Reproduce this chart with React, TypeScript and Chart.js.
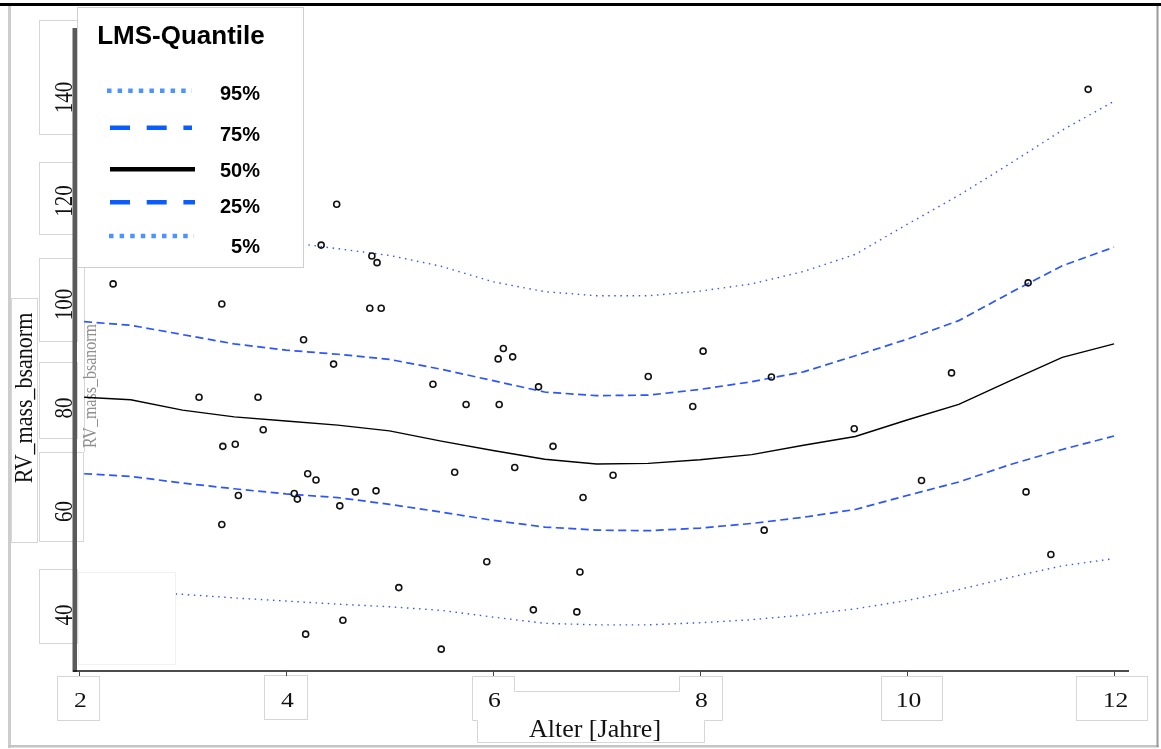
import React, { useEffect, useRef } from 'react';
import { Chart, registerables } from 'chart.js';

Chart.register(...registerables);

// ---------- data ----------
const AGES = [2.05, 2.5, 3, 3.5, 4, 4.5, 5, 5.5, 6, 6.5, 7, 7.5, 8, 8.5, 9, 9.5, 10, 10.5, 11, 11.5, 12];
const Q95 = [116.5, 115.5, 114.4, 113.2, 112.1, 110.8, 109.5, 107.4, 104.4, 102.5, 101.7, 101.7, 102.6, 104.0, 106.4, 109.7, 115.5, 121.1, 127.3, 133.7, 139.3];
const Q75 = [96.7, 96.0, 94.2, 92.4, 91.2, 90.4, 89.4, 87.5, 85.3, 83.1, 82.4, 82.5, 83.6, 85.1, 87.0, 90.1, 93.3, 96.9, 102.3, 107.5, 111.1];
const Q50 = [82.1, 81.6, 79.6, 78.3, 77.5, 76.7, 75.6, 73.6, 71.8, 70.1, 69.2, 69.3, 70.0, 71.0, 72.8, 74.5, 77.7, 80.7, 85.3, 89.8, 92.4];
const Q25 = [67.3, 66.8, 65.5, 64.4, 63.4, 62.7, 61.4, 59.9, 58.3, 57.0, 56.4, 56.3, 56.8, 57.7, 58.9, 60.4, 63.1, 65.7, 69.1, 72.0, 74.6];
const Q5 = [44.8, 44.5, 44.0, 43.3, 42.7, 42.1, 41.6, 40.9, 39.6, 38.4, 38.1, 38.1, 38.5, 39.1, 40.0, 41.2, 42.8, 44.9, 47.3, 49.5, 50.9];

const OBS_AGE = [2.33, 3.38, 3.16, 3.39, 3.51, 3.73, 3.78, 3.54, 3.38, 4.49, 4.34, 4.83, 4.88, 4.81, 4.92, 4.17, 4.46, 5.42, 5.74, 6.06, 6.05, 6.10, 6.19, 6.44, 6.58, 7.50, 8.03, 7.93, 8.69, 9.49, 10.43, 11.17, 11.75, 4.21, 4.29, 4.08, 4.11, 4.67, 4.52, 4.87, 5.63, 6.21, 6.87, 7.16, 5.09, 5.94, 6.84, 6.39, 6.81, 4.19, 4.55, 5.50, 8.62, 10.14, 11.15, 11.39];
const OBS_MASS = [104.0, 100.1, 82.1, 72.6, 73.0, 82.1, 75.8, 63.1, 57.5, 119.4, 111.5, 109.4, 108.1, 99.3, 99.3, 93.2, 88.5, 84.6, 80.7, 80.7, 89.5, 91.5, 89.9, 84.1, 72.6, 86.1, 91.0, 80.3, 86.0, 76.0, 86.8, 104.2, 141.6, 67.3, 66.1, 63.5, 62.4, 63.8, 61.1, 64.0, 67.6, 68.5, 62.7, 67.0, 45.3, 50.3, 48.3, 41.0, 40.6, 36.3, 39.0, 33.4, 56.4, 66.0, 63.8, 51.7];

const X_TICKS = [2, 4, 6, 8, 10, 12];
const Y_TICKS = [40, 60, 80, 100, 120, 140];
const LEGEND_TITLE = 'LMS-Quantile';
const LEGEND_LABELS = ['95%', '75%', '50%', '25%', '5%'];
const X_TITLE = 'Alter [Jahre]';
const Y_TITLE = 'RV_mass_bsanorm';

// ---------- layout / styles ----------
const W = 1161;
const H = 749;
const X_MIN = 1.981;
const X_MAX = 12.135;
const Y_MIN = 29.18;
const Y_MAX = 153.07;

const SERIF = '"Liberation Serif", "Times New Roman", serif';
const SANS = '"Liberation Sans", Arial, sans-serif';

const DOT_BLUE = '#3356ff';
const DASH_BLUE = '#2a55ff';
const LEG_DOT = '#4b94ff';
const LEG_DASH = '#0a5cff';

const lineStyles = [
  { color: DOT_BLUE, width: 1.4, dash: [1.5, 4.6] },
  { color: DASH_BLUE, width: 1.7, dash: [8, 4.5] },
  { color: '#000000', width: 1.4, dash: [] as number[] },
  { color: DASH_BLUE, width: 1.7, dash: [8, 4.5] },
  { color: DOT_BLUE, width: 1.4, dash: [1.5, 4.6] },
];
const legendStyles = [
  { color: LEG_DOT, width: 4.5, dash: [4.5, 6.1], x0: 107, x1: 192, y: 90.7, ty: 100 },
  { color: LEG_DASH, width: 4.5, dash: [20, 16.7], x0: 110, x1: 192, y: 127.7, ty: 140.5 },
  { color: '#000000', width: 4.5, dash: [] as number[], x0: 110, x1: 195, y: 169.3, ty: 177 },
  { color: LEG_DASH, width: 4.5, dash: [20, 16.7], x0: 110, x1: 195, y: 202.3, ty: 213 },
  { color: LEG_DOT, width: 4.5, dash: [4.5, 6.1], x0: 109, x1: 194, y: 236, ty: 253 },
];

const BOX = '#d6d6d6';
const tickBoxesY = [
  [39, 20, 38, 114],
  [39, 162, 38, 72],
  [39, 258, 38, 83],
  [39, 362, 38, 76],
  [39, 452, 44, 89],
  [39, 569, 38, 74],
];
const tickBoxesX = [
  [57, 676, 42, 44],
  [264, 675, 43, 44],
  [881, 676, 61, 44],
  [1076, 676, 71, 44],
];

function strokeRect(ctx: CanvasRenderingContext2D, r: number[], color: string) {
  ctx.strokeStyle = color;
  ctx.lineWidth = 1;
  ctx.strokeRect(r[0] + 0.5, r[1] + 0.5, r[2], r[3]);
}

const decor = {
  id: 'decor',
  beforeDraw(chart: any) {
    const ctx: CanvasRenderingContext2D = chart.ctx;
    ctx.save();
    ctx.fillStyle = '#ffffff';
    ctx.fillRect(0, 0, W, H);

    // outer frame
    ctx.fillStyle = '#cdcdcd';
    ctx.fillRect(8, 5, 3, 743);
    ctx.fillStyle = '#c4c4c4';
    ctx.fillRect(8, 745, 1151, 2.5);
    ctx.fillStyle = '#9a9a9a';
    ctx.fillRect(1156.5, 5, 2, 742);
    ctx.fillStyle = '#000000';
    ctx.fillRect(0, 3, W, 3);

    // tick label boxes
    tickBoxesY.forEach((r) => strokeRect(ctx, r, BOX));
    tickBoxesX.forEach((r) => strokeRect(ctx, r, BOX));
    // y title box
    strokeRect(ctx, [11, 298, 26, 244], BOX);
    // composite 6 / 8 / title box
    ctx.strokeStyle = BOX;
    ctx.lineWidth = 1;
    ctx.beginPath();
    ctx.moveTo(472.5, 676.5);
    ctx.lineTo(514.5, 676.5);
    ctx.lineTo(514.5, 691.5);
    ctx.lineTo(679.5, 691.5);
    ctx.lineTo(679.5, 676.5);
    ctx.lineTo(722.5, 676.5);
    ctx.lineTo(722.5, 720.5);
    ctx.lineTo(704.5, 720.5);
    ctx.lineTo(704.5, 742.5);
    ctx.lineTo(477.5, 742.5);
    ctx.lineTo(477.5, 720.5);
    ctx.lineTo(472.5, 720.5);
    ctx.closePath();
    ctx.stroke();

    // ghost box line + ghost label
    ctx.beginPath();
    ctx.moveTo(84.5, 267);
    ctx.lineTo(84.5, 452);
    ctx.stroke();
    ctx.save();
    ctx.translate(96, 386);
    ctx.scale(1.15, 1);
    ctx.rotate(-Math.PI / 2);
    ctx.filter = 'blur(0.7px)';
    ctx.fillStyle = '#8f8f8f';
    ctx.font = `16px ${SERIF}`;
    ctx.textAlign = 'center';
    ctx.textBaseline = 'alphabetic';
    ctx.fillText(Y_TITLE, 0, 0);
    ctx.restore();

    ctx.restore();
  },
  afterDatasetsDraw(chart: any) {
    const ctx: CanvasRenderingContext2D = chart.ctx;
    const xs = chart.scales.x;
    const ys = chart.scales.y;
    ctx.save();

    // faint white box bottom-left
    ctx.fillStyle = '#ffffff';
    ctx.fillRect(78, 572, 97, 92);
    strokeRect(ctx, [78, 572, 97, 92], '#f1f1f1');

    // axes
    ctx.fillStyle = '#5a5a5a';
    ctx.fillRect(72.5, 28, 4.5, 644);
    ctx.strokeStyle = '#111111';
    ctx.lineWidth = 1.5;
    ctx.beginPath();
    ctx.moveTo(73, 671);
    ctx.lineTo(1129, 671);
    ctx.stroke();
    ctx.lineWidth = 1;
    ctx.strokeStyle = '#444444';
    X_TICKS.forEach((v) => {
      const px = Math.round(xs.getPixelForValue(v)) + 0.5;
      ctx.beginPath();
      ctx.moveTo(px, 671);
      ctx.lineTo(px, 676);
      ctx.stroke();
    });

    // x tick labels
    ctx.fillStyle = '#111111';
    ctx.font = `21px ${SERIF}`;
    ctx.textAlign = 'center';
    ctx.textBaseline = 'alphabetic';
    X_TICKS.forEach((v) => {
      const px = xs.getPixelForValue(v) + 1.5;
      ctx.save();
      ctx.translate(px, 707);
      ctx.scale(1.22, 1);
      ctx.fillText(String(v), 0, 0);
      ctx.restore();
    });

    // y tick labels (rotated)
    Y_TICKS.forEach((v) => {
      const py = ys.getPixelForValue(v);
      ctx.save();
      ctx.translate(71.5, py);
      ctx.scale(1.18, 1);
      ctx.rotate(-Math.PI / 2);
      ctx.font = `21px ${SERIF}`;
      ctx.textAlign = 'center';
      ctx.fillText(String(v), 0, 0);
      ctx.restore();
    });

    // axis titles
    ctx.font = `26px ${SERIF}`;
    ctx.textAlign = 'center';
    ctx.fillText(X_TITLE, 595, 737);
    ctx.save();
    ctx.translate(32, 398);
    ctx.scale(1.1, 1);
    ctx.rotate(-Math.PI / 2);
    ctx.font = `22px ${SERIF}`;
    ctx.textAlign = 'center';
    ctx.fillText(Y_TITLE, 0, 0);
    ctx.restore();

    // legend
    ctx.fillStyle = '#ffffff';
    ctx.fillRect(77, 7, 226, 260);
    strokeRect(ctx, [77, 7, 226, 260], '#cfcfcf');
    ctx.fillStyle = '#000000';
    ctx.font = `bold 26px ${SANS}`;
    ctx.textAlign = 'center';
    ctx.fillText(LEGEND_TITLE, 181, 44);
    LEGEND_LABELS.forEach((lab, i) => {
      const s = legendStyles[i];
      ctx.save();
      ctx.strokeStyle = s.color;
      ctx.lineWidth = s.width;
      ctx.lineCap = 'butt';
      ctx.setLineDash(s.dash);
      ctx.beginPath();
      ctx.moveTo(s.x0, s.y);
      ctx.lineTo(s.x1, s.y);
      ctx.stroke();
      ctx.restore();
      ctx.fillStyle = '#000000';
      ctx.font = `bold 20px ${SANS}`;
      ctx.textAlign = 'right';
      ctx.fillText(lab, 260, s.ty);
    });

    ctx.restore();
  },
};

export default function App() {
  const ref = useRef<HTMLCanvasElement | null>(null);

  useEffect(() => {
    const canvas = ref.current;
    if (!canvas) return;
    const quantiles = [Q95, Q75, Q50, Q25, Q5];
    const lineSets = quantiles.map((q, i) => ({
      label: LEGEND_LABELS[i],
      data: AGES.map((a, j) => ({ x: a, y: q[j] })),
      showLine: true,
      borderColor: lineStyles[i].color,
      borderWidth: lineStyles[i].width,
      borderDash: lineStyles[i].dash,
      pointRadius: 0,
      pointHoverRadius: 0,
      tension: 0,
      fill: false,
    }));
    const obs = {
      label: 'obs',
      data: OBS_AGE.map((a, j) => ({ x: a, y: OBS_MASS[j] })),
      showLine: false,
      pointStyle: 'circle',
      pointRadius: 3,
      pointBorderWidth: 1.6,
      pointBorderColor: '#111111',
      pointBackgroundColor: 'rgba(0,0,0,0)',
      borderColor: '#111111',
      backgroundColor: 'rgba(0,0,0,0)',
    };
    const chart = new Chart(canvas, {
      type: 'scatter',
      data: { datasets: [obs as any, ...lineSets] },
      options: {
        responsive: false,
        maintainAspectRatio: false,
        animation: false,
        devicePixelRatio: 1,
        events: [],
        layout: { padding: { left: 77, right: W - 1128, top: 30, bottom: H - 671 } },
        scales: {
          x: { type: 'linear', min: X_MIN, max: X_MAX, display: false },
          y: { type: 'linear', min: Y_MIN, max: Y_MAX, display: false },
        },
        plugins: {
          legend: { display: false },
          tooltip: { enabled: false },
        },
      },
      plugins: [decor],
    });
    return () => chart.destroy();
  }, []);

  return (
    <div style={{ position: 'fixed', left: 0, top: 0, width: W, height: H, background: '#fff' }}>
      <canvas ref={ref} width={W} height={H} style={{ display: 'block', width: W, height: H }} />
    </div>
  );
}
